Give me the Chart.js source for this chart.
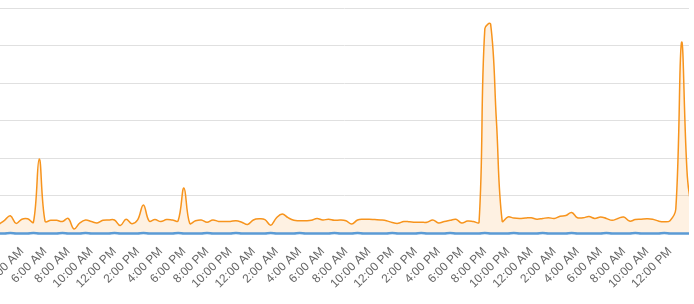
<!DOCTYPE html>
<html>
<head>
<meta charset="utf-8">
<script src="https://cdn.jsdelivr.net/npm/chart.js@4"></script>
<style>
  html, body { margin: 0; padding: 0; background: #fff; overflow: hidden; }
  #wrap { position: absolute; left: -100px; top: 0; width: 794px; height: 304px; }
</style>
</head>
<body>
<div id="wrap"><canvas id="chart"></canvas></div>
<script>
// samples every 30 minutes, hour 0 = midnight of the first day
const startHour = 2;
const stepHours = 0.5;

// orange series (requests), 02:00 day 1 .. 14:00 day 3
const requests = [
  24, 35, 47, 27, 38, 39, 30, 198, 33, 35, 35, 32,
  40, 12, 28, 36, 32, 28, 35, 36, 36, 21, 38, 26,
  36, 76, 33, 37, 32, 37, 36, 34, 121, 27, 34, 36,
  30, 36, 32, 32, 32, 34, 30, 24, 36, 39, 37, 22,
  42, 52, 42, 35, 34, 34, 35, 40, 36, 38, 35, 36,
  34, 25, 36, 38, 38, 37, 36, 34, 29, 27, 32, 31,
  30, 30, 30, 36, 28, 32, 35, 38, 28, 33, 32, 30,
  545, 557, 300, 33, 44, 41, 40, 41, 42, 38, 40, 42,
  40, 46, 48, 56, 42, 42, 45, 40, 44, 40, 35, 40,
  44, 33, 37, 38, 39, 38, 33, 31, 34, 65, 509, 150,
  40,
];

// blue series (errors), almost flat at zero
const errors = [
  0, 0, 1, 0, 0, 0, 1, 0, 0, 0, 0, 1,
  0, 0, 0, 1, 0, 0, 0, 0, 1, 0, 0, 0,
  0, 1, 0, 0, 0, 0, 0, 1, 0, 0, 0, 0,
  1, 0, 0, 0, 0, 1, 0, 0, 0, 0, 0, 1,
  0, 0, 0, 0, 1, 0, 0, 0, 0, 0, 1, 0,
  0, 0, 1, 0, 0, 0, 0, 0, 1, 0, 0, 0,
  0, 1, 0, 0, 0, 0, 1, 0, 0, 0, 0, 0,
  1, 0, 0, 0, 0, 1, 0, 0, 0, 0, 1, 0,
  0, 0, 0, 1, 0, 0, 0, 0, 0, 1, 0, 0,
  0, 0, 1, 0, 0, 0, 0, 1, 0, 0, 0, 0,
  0,
];

// visible time window (hours)
const viewMin = 2.11;
const viewMax = 61.64;

const toPoints = (values) =>
  values.map((v, i) => ({ x: startHour + i * stepHours, y: v }));

const hourLabel = (value) => {
  const h = ((Math.round(value) % 24) + 24) % 24;
  const suffix = h < 12 ? 'AM' : 'PM';
  const h12 = h % 12 === 0 ? 12 : h % 12;
  return `${h12}:00 ${suffix}`;
};

new Chart(document.getElementById('chart'), {
  type: 'line',
  data: {
    datasets: [
      {
        label: 'Errors',
        data: toPoints(errors),
        borderColor: '#5b9bd5',
        borderWidth: 2.5,
        pointRadius: 0,
        tension: 0.4,
        fill: false,
        clip: { left: 0, right: 0, top: 0, bottom: 3 },
      },
      {
        label: 'Requests',
        data: toPoints(requests),
        borderColor: '#f7941d',
        backgroundColor: 'rgba(247, 148, 29, 0.13)',
        borderWidth: 1.5,
        pointRadius: 0,
        tension: 0.4,
        fill: 'origin',
      },
    ],
  },
  options: {
    responsive: true,
    maintainAspectRatio: false,
    animation: false,
    layout: {
      padding: { left: 100, right: 5, top: 8, bottom: 10 },
    },
    plugins: {
      legend: { display: false },
      tooltip: { enabled: false },
    },
    scales: {
      x: {
        type: 'linear',
        min: viewMin,
        max: viewMax,
        grid: { display: false },
        border: { display: false },
        ticks: {
          stepSize: 2,
          includeBounds: false,
          autoSkip: false,
          maxRotation: 45,
          minRotation: 45,
          color: '#666',
          font: { size: 12, family: "'Liberation Sans', Arial, sans-serif" },
          callback: (value) => hourLabel(value),
        },
      },
      y: {
        min: 0,
        max: 600,
        grid: { color: '#e0e0e0', drawTicks: false },
        border: { display: false },
        ticks: { display: false, stepSize: 100 },
      },
    },
  },
});
</script>
</body>
</html>
